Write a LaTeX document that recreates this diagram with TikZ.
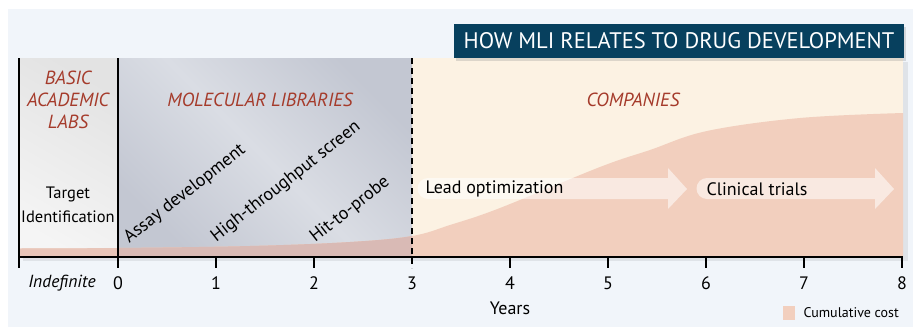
\documentclass[tikz,border=0pt]{standalone}
\usepackage{fontspec}
\setmainfont{PT Sans}
\usetikzlibrary{shadows}

\definecolor{bgblue}{HTML}{F1F5FA}
\definecolor{titleblue}{HTML}{07405E}
\definecolor{labred}{HTML}{A53B2B}
\definecolor{cream}{HTML}{FCF2E3}
\definecolor{costpink}{HTML}{F2CFBE}
\definecolor{labband}{HTML}{E8C5B9}
\definecolor{libband}{HTML}{D9BAB5}
\definecolor{libdark}{HTML}{C3C7D2}
\definecolor{liblight}{HTML}{DADDE4}

\tikzset{
  sector/.style={font=\fontsize{19}{22}\selectfont\itshape, text=labred, align=center},
  stage/.style={font=\fontsize{18}{20}\selectfont, rotate=38},
  ticklabel/.style={font=\fontsize{18}{20}\selectfont},
  process/.style={fill=white, fill opacity=0.55},
  axisline/.style={line width=1.6pt}
}

\begin{document}
\begin{tikzpicture}[x=1pt, y=-1pt]
\useasboundingbox (0,0) rectangle (913,327);

% Background
\fill[bgblue] (8,9) rectangle (913,327);

% Panel shadow and the three sectors
\fill[black, opacity=0.07] (23,62) rectangle (908,261);
\fill[cream] (412,58) rectangle (903,257);
\shade[left color=gray!22, right color=gray!8, shading angle=-30] (19,58) rectangle (118,257);
\shade[left color=libdark, right color=libdark, middle color=liblight, shading angle=-45]
  (118,58) rectangle (412,257);

% Cumulative cost curve
\path[save path=\costpath] plot[smooth, tension=0.6] coordinates {
  (19,248.5) (118,248) (250,246) (350,242) (412,236) (450,225) (500,208)
  (600,167) (650,150) (707,131) (800,118) (903,113)}
  -- (903,257) -- (19,257) -- cycle;
\fill[costpink, use path=\costpath];
\begin{scope}
  \clip (19,58) rectangle (118,257);
  \fill[labband, use path=\costpath];
\end{scope}
\begin{scope}
  \clip (118,58) rectangle (412,257);
  \fill[libband, use path=\costpath];
\end{scope}

% Process arrows
\fill[process] (428,178) -- (668,178) -- (668,168) -- (687,189) -- (668,209) -- (668,199)
  -- (428,199) arc[start angle=270, end angle=90, radius=10.5pt] -- cycle;
\fill[process] (707,178) -- (875,178) -- (875,168) -- (894,189) -- (875,209) -- (875,199)
  -- (707,199) arc[start angle=270, end angle=90, radius=10.5pt] -- cycle;
\node[ticklabel, anchor=west] (lead) at (422,189) {Lead optimization};
\node[ticklabel, anchor=west] (trials) at (703,189) {Clinical trials};

% Sector borders and time axis
\draw[line width=1.5pt] (19,58) -- (19,268);
\draw[line width=1.5pt] (118,58) -- (118,268);
\draw[line width=1.3pt, dash pattern=on 6pt off 4pt] (412,58) -- (412,268);
\draw[axisline] (19,257) -- (903,257);
\foreach \yr in {1,2,4,5,6,7,8}
  \draw[line width=1.5pt] (118+98*\yr,257) -- (118+98*\yr,268);

% Tick labels
\node[ticklabel, font=\fontsize{17.5}{20}\selectfont\itshape] (indef) at (62,283) {Indefinite};
\foreach \yr in {0,...,8}
  \node[ticklabel] (tick\yr) at (118+98*\yr,283) {\yr};
\node[ticklabel] (years) at (510,308) {Years};

% Sector titles
\node[sector] (labs) at (68,100) {BASIC\\ACADEMIC\\LABS};
\node[sector] (libs) at (260,100) {MOLECULAR LIBRARIES};
\node[sector] (comp) at (633,100) {COMPANIES};

% Stages
\node[align=center, font=\fontsize{16.5}{24}\selectfont] (target) at (68,205) {Target\\Identification};
\node[stage] (assay) at (185,194) {Assay development};
\node[stage] (hts) at (286,182) {High-throughput screen};
\node[stage] (probe) at (350,210) {Hit-to-probe};

% Title banner
\node[fill=titleblue, text=white, minimum width=450pt, minimum height=34pt, inner sep=0pt,
  font=\fontsize{22.5}{25}\selectfont,
  drop shadow={opacity=0.25, shadow xshift=2pt, shadow yshift=-3pt}] (title) at (679,41)
  {HOW MLI RELATES TO DRUG DEVELOPMENT};

% Legend
\fill[costpink] (783,306) rectangle (795,320);
\node[anchor=west, font=\fontsize{14}{16}\selectfont] (legend) at (800,313) {Cumulative cost};
\end{tikzpicture}
\end{document}
